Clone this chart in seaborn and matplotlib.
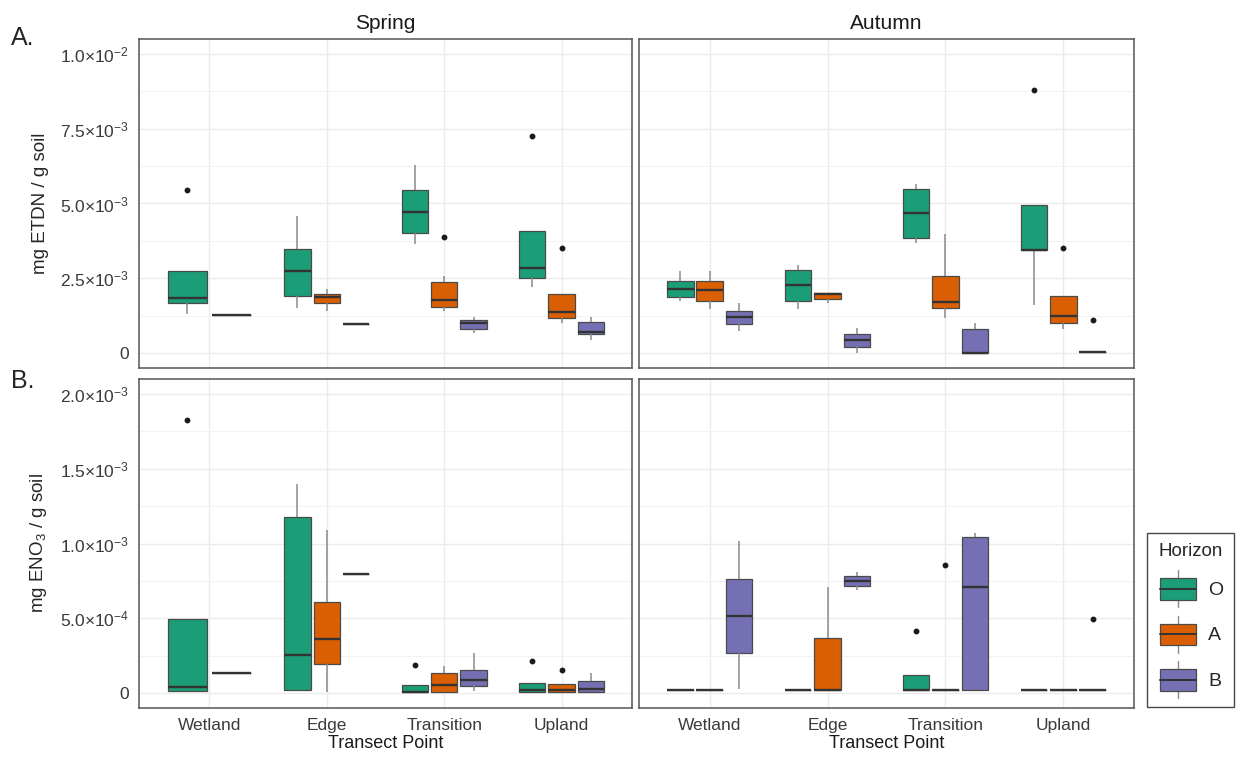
import numpy as np
import pandas as pd
import matplotlib
matplotlib.use("Agg")
import matplotlib.pyplot as plt
import seaborn as sns
from matplotlib.patches import Rectangle
from matplotlib.lines import Line2D
from matplotlib.legend_handler import HandlerBase
from matplotlib.ticker import FixedLocator

# ---------------- data ----------------
TRANSECTS = ["Wetland", "Edge", "Transition", "Upland"]
HORIZONS = ["O", "A", "B"]
SEASONS = ["Spring", "Autumn"]
COLORS = {"O": "#1B9E77", "A": "#D95F02", "B": "#7570B3"}

# rows: transect, horizon, whisker-low, Q1, median, Q3, whisker-high, outliers
# ETDN values in units of 1e-3 mg/g
ETDN_UNIT = 1e-3
ETDN_SPRING = [
    ("Wetland", "O", 1.30, 1.68, 1.83, 2.74, 2.74, [5.46]),
    ("Wetland", "A", 1.28, 1.28, 1.28, 1.28, 1.28, []),
    ("Edge", "O", 1.52, 1.92, 2.74, 3.49, 4.58, []),
    ("Edge", "A", 1.39, 1.68, 1.88, 1.98, 2.13, []),
    ("Edge", "B", 0.97, 0.97, 0.97, 0.97, 0.97, []),
    ("Transition", "O", 3.66, 4.00, 4.70, 5.46, 6.30, []),
    ("Transition", "A", 1.41, 1.55, 1.78, 2.39, 2.58, [3.87]),
    ("Transition", "B", 0.66, 0.80, 1.02, 1.11, 1.21, []),
    ("Upland", "O", 2.22, 2.51, 2.85, 4.08, 4.08, [7.27]),
    ("Upland", "A", 1.00, 1.17, 1.38, 1.99, 1.99, [3.51]),
    ("Upland", "B", 0.43, 0.65, 0.72, 1.04, 1.21, []),
]
ETDN_AUTUMN = [
    ("Wetland", "O", 1.75, 1.89, 2.15, 2.42, 2.73, []),
    ("Wetland", "A", 1.47, 1.75, 2.12, 2.42, 2.75, []),
    ("Wetland", "B", 0.74, 0.97, 1.21, 1.41, 1.66, []),
    ("Edge", "O", 1.47, 1.73, 2.29, 2.78, 2.96, []),
    ("Edge", "A", 1.67, 1.81, 1.96, 2.00, 2.00, []),
    ("Edge", "B", 0.01, 0.20, 0.44, 0.65, 0.85, []),
    ("Transition", "O", 3.69, 3.86, 4.69, 5.47, 5.64, []),
    ("Transition", "A", 1.17, 1.52, 1.69, 2.56, 3.97, []),
    ("Transition", "B", 0.01, 0.01, 0.01, 0.82, 0.99, []),
    ("Upland", "O", 1.60, 3.43, 3.43, 4.96, 4.96, [8.81]),
    ("Upland", "A", 0.80, 0.99, 1.25, 1.92, 1.92, [3.52]),
    ("Upland", "B", 0.02, 0.02, 0.02, 0.02, 0.02, [1.10]),
]
# ENO3 values in units of 1e-4 mg/g
ENO3_UNIT = 1e-4
ENO3_SPRING = [
    ("Wetland", "O", 0.11, 0.11, 0.40, 4.96, 4.96, [18.26]),
    ("Wetland", "A", 1.35, 1.35, 1.35, 1.35, 1.35, []),
    ("Edge", "O", 0.18, 0.18, 2.56, 11.80, 14.00, []),
    ("Edge", "A", 0.10, 1.93, 3.59, 6.12, 10.92, []),
    ("Edge", "B", 7.99, 7.99, 7.99, 7.99, 7.99, []),
    ("Transition", "O", 0.07, 0.07, 0.10, 0.54, 0.54, [1.88]),
    ("Transition", "A", 0.09, 0.09, 0.56, 1.37, 1.84, []),
    ("Transition", "B", 0.13, 0.45, 0.85, 1.57, 2.69, []),
    ("Upland", "O", 0.10, 0.10, 0.18, 0.67, 0.67, [2.15]),
    ("Upland", "A", 0.10, 0.10, 0.20, 0.58, 0.58, [1.53]),
    ("Upland", "B", 0.10, 0.10, 0.25, 0.79, 1.37, []),
]
ENO3_AUTUMN = [
    ("Wetland", "O", 0.22, 0.22, 0.22, 0.22, 0.22, []),
    ("Wetland", "A", 0.22, 0.22, 0.22, 0.22, 0.22, []),
    ("Wetland", "B", 0.25, 2.65, 5.16, 7.63, 10.14, []),
    ("Edge", "O", 0.22, 0.22, 0.22, 0.22, 0.22, []),
    ("Edge", "A", 0.22, 0.22, 0.22, 3.66, 7.11, []),
    ("Edge", "B", 6.86, 7.13, 7.52, 7.83, 8.12, []),
    ("Transition", "O", 0.22, 0.22, 0.22, 1.19, 1.19, [4.13]),
    ("Transition", "A", 0.22, 0.22, 0.22, 0.22, 0.22, [8.59]),
    ("Transition", "B", 0.22, 0.22, 7.09, 10.45, 10.72, []),
    ("Upland", "O", 0.22, 0.22, 0.22, 0.22, 0.22, []),
    ("Upland", "A", 0.22, 0.22, 0.22, 0.22, 0.22, []),
    ("Upland", "B", 0.22, 0.22, 0.22, 0.22, 0.22, [4.98]),
]

ETDN_TICKS = [0, 2.5e-3, 5.0e-3, 7.5e-3, 1.0e-2]
ETDN_LABELS = ["0", "2.5×10^{-3}", "5.0×10^{-3}", "7.5×10^{-3}", "1.0×10^{-2}"]
ENO3_TICKS = [0, 5.0e-4, 1.0e-3, 1.5e-3, 2.0e-3]
ENO3_LABELS = ["0", "5.0×10^{-4}", "1.0×10^{-3}", "1.5×10^{-3}", "2.0×10^{-3}"]


def sample_from_stats(lo, q1, med, q3, hi, outs):
    """Nine observations whose linear quartiles equal the read box statistics."""
    lows = [o for o in outs if o < q1]
    highs = [o for o in outs if o > q3]
    first = lows[0] if lows else lo
    last = highs[0] if highs else hi
    return [first, lo, q1, (q1 + med) / 2, med, (med + q3) / 2, q3, hi, last]


rows = []
for measure, unit, per_season in [
    ("ETDN", ETDN_UNIT, {"Spring": ETDN_SPRING, "Autumn": ETDN_AUTUMN}),
    ("ENO3", ENO3_UNIT, {"Spring": ENO3_SPRING, "Autumn": ENO3_AUTUMN}),
]:
    for season, table in per_season.items():
        for tr, hz, lo, q1, med, q3, hi, outs in table:
            for v in sample_from_stats(lo, q1, med, q3, hi, outs):
                rows.append(dict(measure=measure, season=season, transect=tr,
                                 horizon=hz, value=v * unit))
df = pd.DataFrame(rows)

# ---------------- style ----------------
sns.set_style("white")
plt.rcParams["font.family"] = ["Liberation Sans", "DejaVu Sans"]
plt.rcParams["mathtext.fontset"] = "custom"
plt.rcParams["mathtext.rm"] = "Liberation Sans"
plt.rcParams["mathtext.it"] = "Liberation Sans:italic"
plt.rcParams["mathtext.bf"] = "Liberation Sans:bold"

W, H = 1238, 760
fig = plt.figure(figsize=(W / 100, H / 100), dpi=100)


def rect(x0, y0, x1, y1):
    return [x0 / W, 1 - y1 / H, (x1 - x0) / W, (y1 - y0) / H]


panel_px = {
    ("ETDN", "Spring"): (139, 39, 632, 368),
    ("ETDN", "Autumn"): (639, 39, 1134, 368),
    ("ENO3", "Spring"): (139, 379, 632, 708),
    ("ENO3", "Autumn"): (639, 379, 1134, 708),
}

GRAY_TXT = "#3a3a3a"
for (measure, season), px in panel_px.items():
    ax = fig.add_axes(rect(*px))
    sub = df[(df.measure == measure) & (df.season == season)]
    # group transects by which horizons are present (ggplot-style dodge)
    groups = {}
    for tr in TRANSECTS:
        present = tuple(h for h in HORIZONS if h in set(sub[sub.transect == tr].horizon))
        groups.setdefault(present, []).append(tr)
    for present, trs in groups.items():
        d = sub[sub.transect.isin(trs)]
        sns.boxplot(
            data=d, x="transect", y="value", hue="horizon",
            order=TRANSECTS, hue_order=list(present), palette=COLORS,
            width=0.75, gap=0.1, saturation=1, whis=1.5, showcaps=False,
            legend=False, ax=ax,
            boxprops=dict(edgecolor="#4a4a4a", linewidth=0.9),
            medianprops=dict(color="#333333", linewidth=1.7),
            whiskerprops=dict(color="#8a8a8a", linewidth=1.1),
            flierprops=dict(marker="o", markerfacecolor="#1a1a1a",
                            markeredgecolor="#1a1a1a", markersize=3.2),
        )
    ax.set_xlim(-0.6, 3.6)
    if measure == "ETDN":
        ax.set_ylim(-0.0005, 0.0105)
        ticks, labels, minor = ETDN_TICKS, ETDN_LABELS, [1.25e-3, 3.75e-3, 6.25e-3, 8.75e-3]
    else:
        ax.set_ylim(-0.0001, 0.0021)
        ticks, labels, minor = ENO3_TICKS, ENO3_LABELS, [2.5e-4, 7.5e-4, 1.25e-3, 1.75e-3]
    ax.yaxis.set_major_locator(FixedLocator(ticks))
    ax.yaxis.set_minor_locator(FixedLocator(minor))
    ax.set_yticklabels(["0" if l == "0" else r"$\mathregular{" + l + "}$" for l in labels])
    ax.set_xticks(range(len(TRANSECTS)))
    ax.set_xticklabels(TRANSECTS)
    ax.set_axisbelow(True)
    ax.grid(which="major", axis="both", color="#EBEBEB", linewidth=1.0)
    ax.grid(which="minor", axis="y", color="#F2F2F2", linewidth=0.7)
    ax.tick_params(which="major", length=4, width=0.8, color="#333333",
                   labelsize=12.5, labelcolor=GRAY_TXT, pad=3)
    ax.tick_params(which="minor", length=0)
    for sp in ax.spines.values():
        sp.set_visible(True)
        sp.set_color("#555555")
        sp.set_linewidth(1.1)
    ax.set_xlabel("")
    ax.set_ylabel("")
    if measure == "ETDN":
        ax.tick_params(labelbottom=False)
        ax.set_title(season, fontsize=15, pad=7, color="#1a1a1a")
    else:
        ax.set_xlabel("Transect Point", fontsize=13, color="#1a1a1a", labelpad=2)
    if season == "Autumn":
        ax.tick_params(labelleft=False)
    else:
        if measure == "ETDN":
            ax.set_ylabel("mg ETDN / g soil", fontsize=13.5, labelpad=8)
        else:
            ax.set_ylabel(r"mg ENO$_\mathregular{3}$ / g soil", fontsize=13.5, labelpad=8)

fig.text(11 / W, 1 - 38 / H, "A.", fontsize=18, va="center", ha="left")
fig.text(11 / W, 1 - 381 / H, "B.", fontsize=18, va="center", ha="left")


# ---------------- legend with box glyphs ----------------
class BoxHandler(HandlerBase):
    def create_artists(self, legend, orig_handle, xdescent, ydescent,
                       width, height, fontsize, trans):
        x0, y0 = -xdescent, -ydescent
        fc = orig_handle.get_facecolor()
        bx0, bx1 = x0 + width * 0.05, x0 + width * 0.95
        by0, by1 = y0 + height * 0.18, y0 + height * 0.82
        xm = x0 + width / 2
        arts = [
            Line2D([xm, xm], [y0 - height * 0.05, by0], color="#8a8a8a", lw=1.0),
            Line2D([xm, xm], [by1, y0 + height * 1.05], color="#8a8a8a", lw=1.0),
            Rectangle((bx0, by0), bx1 - bx0, by1 - by0, facecolor=fc,
                      edgecolor="#4a4a4a", lw=0.9),
            Line2D([bx0, bx1], [y0 + height / 2] * 2, color="#333333", lw=1.4),
        ]
        for a in arts:
            a.set_transform(trans)
        return arts


handles = [Rectangle((0, 0), 1, 1, facecolor=COLORS[h]) for h in HORIZONS]
leg = fig.legend(handles, HORIZONS, title="Horizon",
                 handler_map={Rectangle: BoxHandler()},
                 loc="center left", bbox_to_anchor=(1147 / W, 1 - 620 / H),
                 frameon=True, fancybox=False, edgecolor="#1a1a1a",
                 fontsize=14, title_fontsize=13.5, handlelength=2.1,
                 handleheight=2.3, labelspacing=0.6, handletextpad=0.5,
                 borderpad=0.55, borderaxespad=0)
leg.get_frame().set_linewidth(1.0)

fig.savefig("out.png", dpi=100)
